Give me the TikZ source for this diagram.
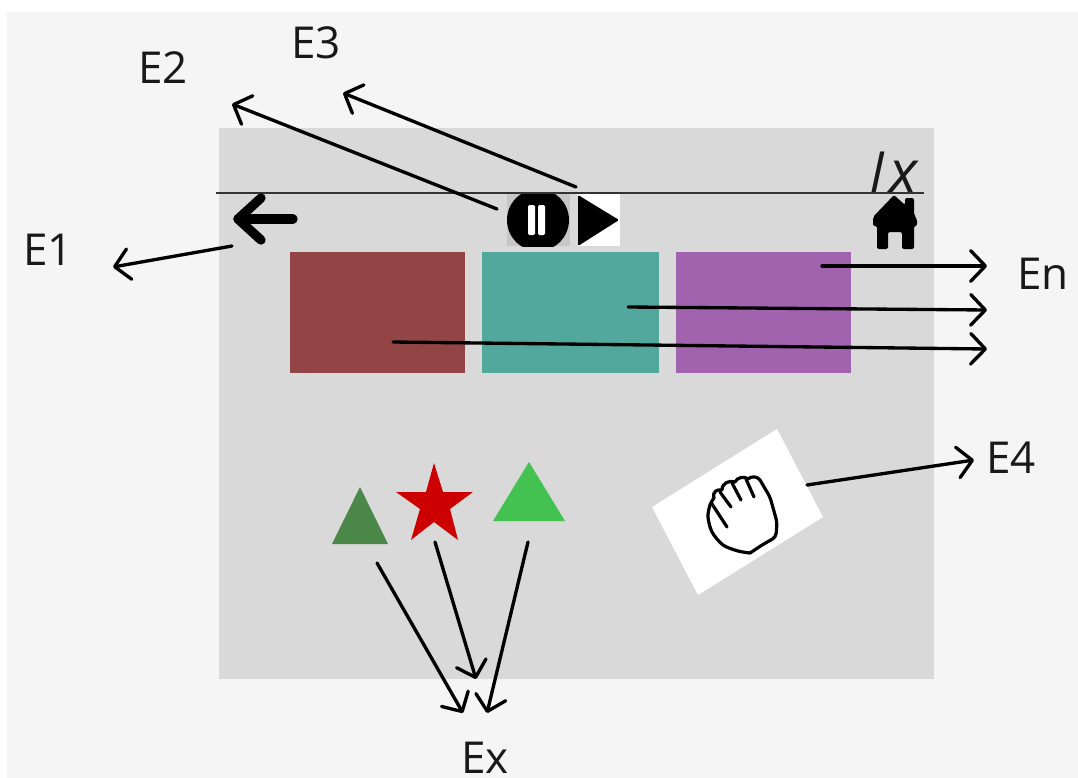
\documentclass[tikz,border=0pt]{standalone}
\usepackage{fontspec}
\setmainfont{Open Sans}
\usetikzlibrary{arrows.meta}
\definecolor{pagebg}{HTML}{F5F5F5}
\definecolor{panel}{HTML}{D9D9D9}
\definecolor{maroon}{HTML}{934545}
\definecolor{tealb}{HTML}{52A89C}
\definecolor{purpleb}{HTML}{A163AE}
\definecolor{darkgreen}{HTML}{4A8749}
\definecolor{lightgreen}{HTML}{43C151}
\definecolor{starred}{HTML}{CC0000}
\tikzset{
  flow/.style={line width=2.5pt,line cap=round,-{Straight Barb[length=11pt,width=23pt,round]}},
  lab/.style={inner sep=0pt,font=\fontsize{33}{36}\selectfont,text=black!90},
  block/.style={inner sep=0pt,minimum height=90.75pt},
  iconline/.style={line cap=round,line join=round,draw=black},
}
\begin{document}
\begin{tikzpicture}[x=0.75pt,y=-0.75pt]
\useasboundingbox (0,0) rectangle (1078,778);
\fill[white] (0,0) rectangle (1078,778);
\fill[pagebg] (7,12) rectangle (1078,778);
\fill[panel] (219,128) rectangle (934,679);

% colour blocks
\node[block,fill=maroon,minimum width=131.25pt] (red) at (377.5,312.5) {};
\node[block,fill=tealb,minimum width=132.75pt] (teal) at (570.5,312.5) {};
\node[block,fill=purpleb,minimum width=131.25pt] (purple) at (763.5,312.5) {};

% top rule
\coordinate (ruleL) at (216,193);
\coordinate (ruleR) at (924,193);
\draw[line width=0.9pt,draw=black!80] (ruleL) -- (ruleR);

% back arrow
\draw[iconline,line width=7pt] (293,219) -- (238,219);
\draw[iconline,line width=7pt] (261,198) -- (238,219) -- (261,240);

% pause button
\fill[gray!45] (507,194) rectangle (570,246);
\begin{scope}
\clip (507,194) rectangle (570,246);
\fill[black] (538,220) ellipse [x radius=31,y radius=31];
\end{scope}
\fill[white,rounded corners=1pt] (528,205) rectangle (535,235);
\fill[white,rounded corners=1pt] (538,205) rectangle (545,235);

% play button
\fill[white] (578,194) rectangle (620,246);
\fill[black,rounded corners=1pt] (578,195) -- (619,220) -- (578,246) -- cycle;

% home icon
\fill[black,rounded corners=1.5pt] (894,195) -- (905,205) -- (905,198) -- (914,198) -- (914,215)
  -- (917,219) -- (917,226) -- (914,226) -- (914,249) -- (902,249) -- (902,232) -- (888,232)
  -- (888,249) -- (877,249) -- (877,226) -- (873,226) -- (873,217) -- cycle;

% 1x label
\node[inner sep=0pt,anchor=base west,text=black!90] (speed) at (870,192)
  {\itshape\fontsize{40}{44}\selectfont l\hspace{4pt}\fontsize{44}{44}\selectfont x};

% shapes
\fill[darkgreen] (332,544) -- (388,544) -- (360,487) -- cycle;
\fill[lightgreen] (493,521) -- (565,521) -- (529,462) -- cycle;
\fill[starred] (434,463) -- (443,492) -- (473,492) -- (450,509) -- (458,540) -- (434,522)
  -- (411,540) -- (420,509) -- (396,492) -- (426,492) -- cycle;

% hand card
\fill[white] (777,429) -- (823,517) -- (698,595) -- (652,507) -- cycle;
\draw[iconline,line width=2.4pt] plot[smooth] coordinates {(750,553) (738,551) (723,545) (712,532) (708,517) (710,505) (714,498)};
\draw[iconline,line width=2.4pt,rounded corners=3pt] (750,553) -- (762,545) -- (776,537) -- (777,522) -- (770,497) -- (760,480);
\draw[iconline,line width=2.4pt] (714,498) .. controls (712,491) and (718,489) .. (722,490)
  .. controls (722,483) and (729,480) .. (735,482)
  .. controls (737,477) and (745,476) .. (748,479)
  .. controls (751,476) and (757,476) .. (760,480);
\draw[iconline,line width=2.4pt] (727,527) -- (712,504);
\draw[iconline,line width=2.4pt] (731,507) -- (720,492);
\draw[iconline,line width=2.4pt] (741,500) -- (732,483);
\draw[iconline,line width=2.4pt] (754,497) -- (746,479);

% labels
\node[lab] (E1) at (48,250) {E1};
\node[lab] (E2) at (163,68) {E2};
\node[lab] (E3) at (316,43) {E3};
\node[lab] (En) at (1043,274) {En};
\node[lab] (E4) at (1011,458) {E4};
\node[lab] (Ex) at (485,758) {Ex};

% connector ends
\coordinate (backS) at (232,246);   \coordinate (backT) at (113,267);
\coordinate (pauseS) at (497,209);  \coordinate (pauseT) at (232,104);
\coordinate (playS) at (576,187);   \coordinate (playT) at (343,93);
\coordinate (purpleS) at (822,266); \coordinate (purpleT) at (987,266);
\coordinate (tealS) at (628,307);   \coordinate (tealT) at (987,310);
\coordinate (redS) at (393,342);    \coordinate (redT) at (987,349);
\coordinate (handS) at (807,485);   \coordinate (handT) at (974,460);
\coordinate (dgS) at (377,563);     \coordinate (dgT) at (463,713);
\coordinate (starS) at (435,542);   \coordinate (starT) at (476,679);
\coordinate (lgS) at (528,542);     \coordinate (lgT) at (487,713);

\draw[flow] (backS) -- (backT);
\draw[flow] (pauseS) -- (pauseT);
\draw[flow] (playS) -- (playT);
\draw[flow] (purpleS) -- (purpleT);
\draw[flow] (tealS) -- (tealT);
\draw[flow] (redS) -- (redT);
\draw[flow] (handS) -- (handT);
\draw[flow] (dgS) -- (dgT);
\draw[flow] (starS) -- (starT);
\draw[flow] (lgS) -- (lgT);
\end{tikzpicture}
\end{document}
